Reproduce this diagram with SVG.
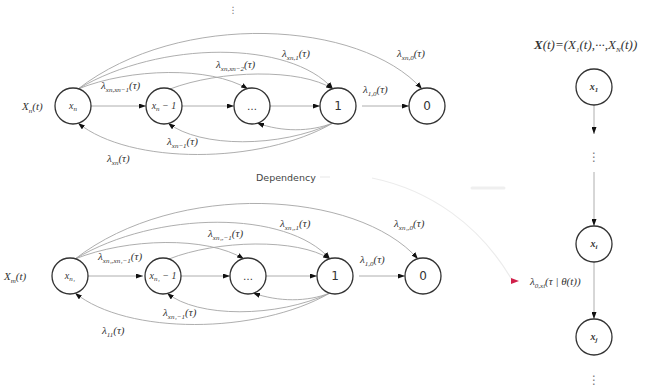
<svg xmlns="http://www.w3.org/2000/svg" width="650" height="386" viewBox="0 0 650 386">
<defs>
<marker id="ar" markerWidth="7" markerHeight="5" refX="7" refY="2.5" orient="auto" markerUnits="userSpaceOnUse"><path d="M0,0 L7,2.5 L0,5 z" fill="#111"/></marker>
<marker id="arr" markerWidth="8" markerHeight="6" refX="8" refY="3" orient="auto" markerUnits="userSpaceOnUse"><path d="M0,0 L8,3 L0,6 z" fill="#d0204a"/></marker>
<style>
.st{fill:#fff;stroke:#333;stroke-width:1.3}
.ln{fill:none;stroke:#a5a5a5;stroke-width:0.9;marker-end:url(#ar)}
.t{font-family:"Liberation Serif","DejaVu Serif",serif;font-style:italic;fill:#333;font-size:11px}
.n{font-family:"Liberation Serif","DejaVu Serif",serif;font-style:italic;fill:#333;font-size:10px;text-anchor:middle}
.num{font-family:"DejaVu Sans",sans-serif;fill:#333;font-size:12px;text-anchor:middle}
.s{font-size:7px}
.dep{font-family:"DejaVu Sans",sans-serif;fill:#444;font-size:9.5px}
.faint{fill:none;stroke:#ececec;stroke-width:1.2}
.dots{font-family:"DejaVu Sans",sans-serif;fill:#777;font-size:12px;text-anchor:middle}
</style>
</defs>
<rect width="650" height="386" fill="#fff"/>

<g id="connectors">
<path class="ln" d="M91,106 H146"/>
<path class="ln" d="M182,106 H234"/>
<path class="ln" d="M270,106 H320"/>
<path class="ln" d="M362,106 H409"/>
<path class="ln" d="M78,89 C180,10 360,20 422,89"/>
<path class="ln" d="M78,89 C160,40 290,40 333,89"/>
<path class="ln" d="M78,89 C130,68 210,66 248,89"/>
<path class="ln" d="M170,89 C220,70 300,68 333,89"/>
<path class="ln" d="M333,123 C260,165 130,165 78,123"/>
<path class="ln" d="M333,123 C280,148 200,148 168,123"/>
<path class="ln" d="M333,123 C310,132 282,132 257,123"/>
<path class="ln" d="M88,276 H143"/>
<path class="ln" d="M181,276 H230"/>
<path class="ln" d="M266,276 H317"/>
<path class="ln" d="M359,276 H405"/>
<path class="ln" d="M75,259 C177,180 357,190 418,259"/>
<path class="ln" d="M75,259 C157,210 287,210 330,259"/>
<path class="ln" d="M75,259 C127,238 207,236 244,259"/>
<path class="ln" d="M169,259 C217,240 297,238 330,259"/>
<path class="ln" d="M330,293 C257,335 127,335 75,293"/>
<path class="ln" d="M330,293 C277,318 197,318 167,293"/>
<path class="ln" d="M330,293 C307,302 279,302 253,293"/>
<path class="ln" d="M594,105 V134"/>
<path class="ln" d="M594,172 V226"/>
<path class="ln" d="M594,262 V319"/>
<path class="faint" d="M320,177 H330"/>
<path class="faint" d="M372,178 C430,190 480,225 512,280"/>
<path d="M472,188 H504" stroke="#efefef" stroke-width="3" stroke-linecap="round"/>
<path d="M505,281 H519" stroke="none" fill="none" marker-end="url(#arr)"/>
</g>

<text class="t" x="22" y="110">X<tspan class="s" dy="3">n</tspan><tspan dy="-3">(t)</tspan></text>
<g id="a1"><circle class="st" cx="73" cy="106" r="18"/><text class="n" x="73" y="109">x<tspan class="s" dy="2">n</tspan></text></g>
<g id="b1"><circle class="st" cx="164" cy="106" r="18"/><text class="n" x="164" y="109">x<tspan class="s" dy="2">n</tspan><tspan dy="-2"> − 1</tspan></text></g>
<g id="c1"><circle class="st" cx="252" cy="106" r="18"/><text class="num" x="252" y="110" style="font-size:10px">…</text></g>
<g id="d1"><circle class="st" cx="338" cy="106" r="18"/><text class="num" x="338" y="110">1</text></g>
<g id="e1"><circle class="st" cx="427" cy="106" r="18"/><text class="num" x="427" y="110">0</text></g>

<text class="t" x="101" y="89">λ<tspan class="s" dy="3">x<tspan>n</tspan>,x<tspan>n</tspan>−1</tspan><tspan dy="-3">(τ)</tspan></text>
<text class="t" x="216" y="68">λ<tspan class="s" dy="3">x<tspan>n</tspan>,x<tspan>n</tspan>−2</tspan><tspan dy="-3">(τ)</tspan></text>
<text class="t" x="282" y="57">λ<tspan class="s" dy="3">x<tspan>n</tspan>,1</tspan><tspan dy="-3">(τ)</tspan></text>
<text class="t" x="397" y="57">λ<tspan class="s" dy="3">x<tspan>n</tspan>,0</tspan><tspan dy="-3">(τ)</tspan></text>
<text class="t" x="363" y="93">λ<tspan class="s" dy="3">1,0</tspan><tspan dy="-3">(τ)</tspan></text>
<text class="t" x="167" y="145">λ<tspan class="s" dy="3">x<tspan>n</tspan>−1</tspan><tspan dy="-3">(τ)</tspan></text>
<text class="t" x="107" y="162">λ<tspan class="s" dy="3">x<tspan>n</tspan></tspan><tspan dy="-3">(τ)</tspan></text>

<text class="t" x="4" y="280">X<tspan class="s" dy="3">m</tspan><tspan dy="-3">(t)</tspan></text>
<g id="a2"><circle class="st" cx="70" cy="276" r="18"/><text class="n" x="70" y="279">x<tspan class="s" dy="2">n₁</tspan></text></g>
<g id="b2"><circle class="st" cx="163" cy="276" r="18"/><text class="n" x="163" y="279">x<tspan class="s" dy="2">n₁</tspan><tspan dy="-2"> − 1</tspan></text></g>
<g id="c2"><circle class="st" cx="248" cy="276" r="18"/><text class="num" x="248" y="280" style="font-size:10px">…</text></g>
<g id="d2"><circle class="st" cx="335" cy="276" r="18"/><text class="num" x="335" y="280">1</text></g>
<g id="e2"><circle class="st" cx="423" cy="276" r="18"/><text class="num" x="423" y="280">0</text></g>

<text class="t" x="98" y="260">λ<tspan class="s" dy="3">x<tspan>n₁</tspan>,x<tspan>n₁</tspan>−1</tspan><tspan dy="-3">(τ)</tspan></text>
<text class="t" x="208" y="237">λ<tspan class="s" dy="3">x<tspan>n₁</tspan>,−1</tspan><tspan dy="-3">(τ)</tspan></text>
<text class="t" x="280" y="227">λ<tspan class="s" dy="3">x<tspan>n₁</tspan>,1</tspan><tspan dy="-3">(τ)</tspan></text>
<text class="t" x="394" y="227">λ<tspan class="s" dy="3">x<tspan>n₁</tspan>,0</tspan><tspan dy="-3">(τ)</tspan></text>
<text class="t" x="360" y="263">λ<tspan class="s" dy="3">1,0</tspan><tspan dy="-3">(τ)</tspan></text>
<text class="t" x="163" y="316">λ<tspan class="s" dy="3">x<tspan>n₁</tspan>−1</tspan><tspan dy="-3">(τ)</tspan></text>
<text class="t" x="102" y="334">λ<tspan class="s" dy="3">1<tspan>1</tspan></tspan><tspan dy="-3">(τ)</tspan></text>

<text class="dep" x="256" y="181">Dependency</text>
<text class="dots" x="233" y="13" style="font-size:9px">⋮</text>

<text class="t" x="534" y="49" style="font-size:13px"><tspan style="font-weight:bold">X</tspan>(t)=(X<tspan class="s" dy="3">1</tspan><tspan dy="-3">(t),···,X</tspan><tspan class="s" dy="3">N</tspan><tspan dy="-3">(t))</tspan></text>
<g id="x1"><circle class="st" cx="594" cy="87" r="18"/><text class="n" x="594" y="90" style="font-weight:bold">x<tspan class="s" dy="2">1</tspan></text></g>
<text class="dots" x="594" y="161">⋮</text>
<g id="xi"><circle class="st" cx="594" cy="244" r="18"/><text class="n" x="594" y="247" style="font-weight:bold">x<tspan class="s" dy="2">i</tspan></text></g>
<g id="xj"><circle class="st" cx="594" cy="337" r="18"/><text class="n" x="594" y="340" style="font-weight:bold">x<tspan class="s" dy="2">j</tspan></text></g>
<text class="dots" x="594" y="384">⋮</text>
<text class="t" x="530" y="285" style="font-size:11px">λ<tspan class="s" dy="3">0,x<tspan>i</tspan></tspan><tspan dy="-3">(τ | θ(t))</tspan></text>
</svg>
